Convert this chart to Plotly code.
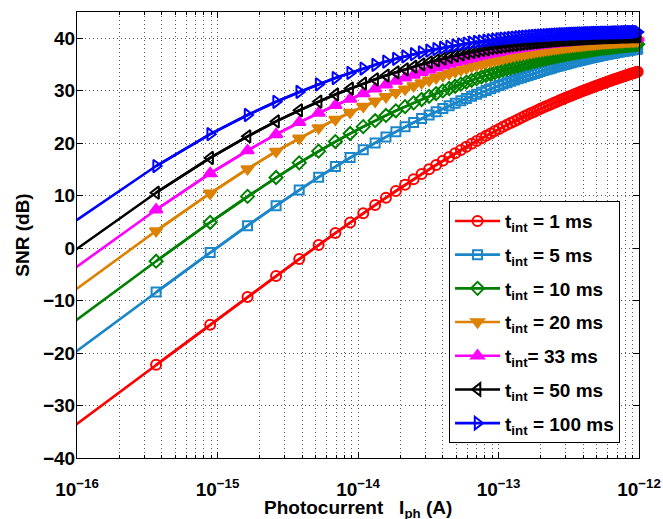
import plotly.graph_objects as go

# Photocurrent sample points (A); the first one lies just left of the visible range
Iph = [
    7.16e-17, 3.656e-16, 8.869e-16, 1.636e-15, 2.612e-15, 3.816e-15, 5.246e-15, 6.904e-15, 8.791e-15, 1.090e-14,
    1.324e-14, 1.581e-14, 1.860e-14, 2.163e-14, 2.488e-14, 2.836e-14, 3.206e-14, 3.599e-14, 4.015e-14, 4.454e-14,
    4.915e-14, 5.399e-14, 5.906e-14, 6.436e-14, 6.988e-14, 7.563e-14, 8.161e-14, 8.782e-14, 9.425e-14, 1.0091e-13,
    1.0779e-13, 1.1491e-13, 1.2225e-13, 1.2982e-13, 1.3762e-13, 1.4564e-13, 1.5389e-13, 1.6238e-13, 1.7108e-13, 1.8001e-13,
    1.8917e-13, 1.9856e-13, 2.0818e-13, 2.1802e-13, 2.2809e-13, 2.3839e-13, 2.4891e-13, 2.5967e-13, 2.7065e-13, 2.8185e-13,
    2.9329e-13, 3.0495e-13, 3.1684e-13, 3.2896e-13, 3.4130e-13, 3.5387e-13, 3.6667e-13, 3.7970e-13, 3.9295e-13, 4.0643e-13,
    4.2014e-13, 4.3407e-13, 4.4824e-13, 4.6263e-13, 4.7725e-13, 4.9209e-13, 5.0716e-13, 5.2247e-13, 5.3799e-13, 5.5374e-13,
    5.6972e-13, 5.8593e-13, 6.0238e-13, 6.1904e-13, 6.3593e-13, 6.5304e-13, 6.7038e-13, 6.8797e-13, 7.0577e-13, 7.2379e-13,
    7.4204e-13, 7.6052e-13, 7.7925e-13, 7.9818e-13, 8.1734e-13, 8.3673e-13, 8.5635e-13, 8.7621e-13, 8.9628e-13, 9.1658e-13,
    9.3710e-13, 9.5785e-13, 9.7885e-13, 1.0000e-12,
]

snr_1ms = [
    -36.40, -22.25, -14.59, -9.31, -5.30, -2.08, 0.60, 2.89, 4.89, 6.65,
    8.21, 9.62, 10.90, 12.07, 13.13, 14.11, 15.02, 15.86, 16.64, 17.37,
    18.06, 18.70, 19.30, 19.87, 20.41, 20.92, 21.40, 21.86, 22.30, 22.71,
    23.11, 23.49, 23.85, 24.20, 24.53, 24.85, 25.16, 25.45, 25.74, 26.01,
    26.28, 26.54, 26.78, 27.02, 27.25, 27.48, 27.70, 27.91, 28.11, 28.31,
    28.51, 28.70, 28.88, 29.06, 29.23, 29.40, 29.56, 29.73, 29.88, 30.04,
    30.18, 30.33, 30.47, 30.61, 30.75, 30.88, 31.01, 31.14, 31.26, 31.38,
    31.50, 31.62, 31.74, 31.85, 31.96, 32.07, 32.17, 32.28, 32.38, 32.48,
    32.57, 32.67, 32.76, 32.86, 32.95, 33.04, 33.12, 33.21, 33.30, 33.38,
    33.46, 33.54, 33.62, 33.70,
]
snr_5ms = [
    -22.45, -8.38, -0.83, 4.28, 8.09, 11.08, 13.52, 15.54, 17.27, 18.75,
    20.05, 21.19, 22.20, 23.12, 23.94, 24.69, 25.38, 26.00, 26.59, 27.12,
    27.63, 28.09, 28.53, 28.95, 29.33, 29.70, 30.05, 30.37, 30.69, 30.98,
    31.26, 31.53, 31.79, 32.03, 32.27, 32.49, 32.71, 32.91, 33.11, 33.30,
    33.48, 33.66, 33.83, 33.99, 34.15, 34.30, 34.45, 34.59, 34.72, 34.85,
    34.98, 35.10, 35.22, 35.34, 35.45, 35.56, 35.66, 35.76, 35.86, 35.96,
    36.05, 36.14, 36.22, 36.31, 36.39, 36.47, 36.54, 36.62, 36.69, 36.76,
    36.83, 36.90, 36.96, 37.03, 37.09, 37.15, 37.20, 37.26, 37.32, 37.37,
    37.42, 37.47, 37.52, 37.57, 37.62, 37.66, 37.71, 37.75, 37.79, 37.84,
    37.88, 37.92, 37.95, 37.99,
]
snr_10ms = [
    -16.48, -2.49, 4.92, 9.86, 13.46, 16.25, 18.48, 20.31, 21.84, 23.15,
    24.29, 25.29, 26.17, 26.96, 27.68, 28.33, 28.92, 29.46, 29.96, 30.42,
    30.85, 31.26, 31.63, 31.98, 32.31, 32.62, 32.91, 33.19, 33.45, 33.70,
    33.93, 34.15, 34.36, 34.56, 34.75, 34.93, 35.10, 35.27, 35.43, 35.58,
    35.72, 35.86, 35.99, 36.11, 36.23, 36.35, 36.46, 36.56, 36.67, 36.76,
    36.86, 36.95, 37.03, 37.12, 37.20, 37.27, 37.35, 37.42, 37.49, 37.56,
    37.62, 37.68, 37.74, 37.80, 37.86, 37.91, 37.96, 38.01, 38.06, 38.11,
    38.15, 38.20, 38.24, 38.28, 38.32, 38.36, 38.40, 38.43, 38.47, 38.50,
    38.53, 38.57, 38.60, 38.63, 38.66, 38.69, 38.71, 38.74, 38.77, 38.79,
    38.82, 38.84, 38.87, 38.89,
]
snr_20ms = [
    -10.56, 3.28, 10.45, 15.10, 18.42, 20.93, 22.91, 24.51, 25.86, 27.00,
    27.99, 28.85, 29.62, 30.30, 30.92, 31.48, 31.98, 32.45, 32.87, 33.27,
    33.63, 33.97, 34.28, 34.57, 34.84, 35.09, 35.33, 35.55, 35.76, 35.95,
    36.13, 36.31, 36.47, 36.62, 36.77, 36.90, 37.03, 37.16, 37.27, 37.38,
    37.49, 37.58, 37.68, 37.77, 37.85, 37.93, 38.01, 38.08, 38.15, 38.22,
    38.28, 38.35, 38.40, 38.46, 38.51, 38.56, 38.61, 38.66, 38.70, 38.75,
    38.79, 38.83, 38.87, 38.90, 38.94, 38.97, 39.01, 39.04, 39.07, 39.10,
    39.12, 39.15, 39.18, 39.20, 39.23, 39.25, 39.27, 39.30, 39.32, 39.34,
    39.36, 39.38, 39.39, 39.41, 39.43, 39.45, 39.46, 39.48, 39.49, 39.51,
    39.52, 39.54, 39.55, 39.56,
]
snr_33ms = [
    -6.32, 7.32, 14.23, 18.60, 21.67, 23.97, 25.76, 27.22, 28.44, 29.47,
    30.37, 31.15, 31.84, 32.45, 33.01, 33.50, 33.95, 34.36, 34.74, 35.08,
    35.40, 35.68, 35.95, 36.20, 36.43, 36.64, 36.84, 37.02, 37.19, 37.35,
    37.50, 37.64, 37.77, 37.89, 38.01, 38.11, 38.21, 38.31, 38.40, 38.48,
    38.56, 38.64, 38.71, 38.78, 38.84, 38.90, 38.96, 39.02, 39.07, 39.12,
    39.16, 39.21, 39.25, 39.29, 39.33, 39.37, 39.40, 39.44, 39.47, 39.50,
    39.53, 39.56, 39.58, 39.61, 39.64, 39.66, 39.68, 39.70, 39.73, 39.75,
    39.77, 39.79, 39.80, 39.82, 39.84, 39.85, 39.87, 39.88, 39.90, 39.91,
    39.93, 39.94, 39.95, 39.97, 39.98, 39.99, 40.00, 40.01, 40.02, 40.03,
    40.04, 40.05, 40.06, 40.07,
]
snr_50ms = [
    -2.87, 10.56, 17.19, 21.30, 24.15, 26.27, 27.93, 29.28, 30.40, 31.35,
    32.17, 32.89, 33.51, 34.07, 34.57, 35.02, 35.42, 35.78, 36.11, 36.41,
    36.68, 36.93, 37.15, 37.36, 37.56, 37.73, 37.90, 38.05, 38.19, 38.32,
    38.44, 38.55, 38.66, 38.75, 38.84, 38.93, 39.01, 39.08, 39.15, 39.22,
    39.28, 39.34, 39.39, 39.45, 39.50, 39.54, 39.58, 39.63, 39.67, 39.70,
    39.74, 39.77, 39.80, 39.83, 39.86, 39.89, 39.92, 39.94, 39.96, 39.99,
    40.01, 40.03, 40.05, 40.07, 40.09, 40.10, 40.12, 40.14, 40.15, 40.17,
    40.18, 40.20, 40.21, 40.22, 40.23, 40.25, 40.26, 40.27, 40.28, 40.29,
    40.30, 40.31, 40.32, 40.33, 40.33, 40.34, 40.35, 40.36, 40.37, 40.37,
    40.38, 40.39, 40.39, 40.40,
]
snr_100ms = [
    2.74, 15.64, 21.71, 25.37, 27.89, 29.76, 31.22, 32.41, 33.39, 34.22,
    34.93, 35.55, 36.08, 36.55, 36.96, 37.32, 37.64, 37.93, 38.19, 38.42,
    38.63, 38.82, 38.99, 39.15, 39.29, 39.42, 39.53, 39.64, 39.74, 39.83,
    39.92, 39.99, 40.07, 40.13, 40.19, 40.25, 40.30, 40.35, 40.40, 40.44,
    40.48, 40.52, 40.56, 40.59, 40.62, 40.65, 40.68, 40.71, 40.73, 40.76,
    40.78, 40.80, 40.82, 40.84, 40.86, 40.87, 40.89, 40.91, 40.92, 40.93,
    40.95, 40.96, 40.97, 40.99, 41.00, 41.01, 41.02, 41.03, 41.04, 41.05,
    41.05, 41.06, 41.07, 41.08, 41.09, 41.09, 41.10, 41.11, 41.11, 41.12,
    41.13, 41.13, 41.14, 41.14, 41.15, 41.15, 41.16, 41.16, 41.17, 41.17,
    41.17, 41.18, 41.18, 41.19,
]

legend_names = [
    "t<sub>int</sub> = 1 ms",
    "t<sub>int</sub> = 5 ms",
    "t<sub>int</sub> = 10 ms",
    "t<sub>int</sub> = 20 ms",
    "t<sub>int</sub>= 33 ms",
    "t<sub>int</sub> = 50 ms",
    "t<sub>int</sub> = 100 ms",
]
x_tick_vals = [1e-16, 1e-15, 1e-14, 1e-13, 1e-12]
x_tick_text = ["10<sup>\u221216</sup>", "10<sup>\u221215</sup>", "10<sup>\u221214</sup>",
               "10<sup>\u221213</sup>", "10<sup>\u221212</sup>"]
y_tick_vals = [-40, -30, -20, -10, 0, 10, 20, 30, 40]
y_tick_text = ["\u221240", "\u221230", "\u221220", "\u221210", "0", "10", "20", "30", "40"]
x_title = "<b>Photocurrent   I<sub>ph</sub> (A)</b>"
y_title = "<b>SNR (dB)</b>"

series_values = [snr_1ms, snr_5ms, snr_10ms, snr_20ms, snr_33ms, snr_50ms, snr_100ms]
colors = ["#ff0000", "#1b86c9", "#008000", "#dc8200", "#ff00ff", "#000000", "#0000ff"]
symbols = ["circle-open", "square-open", "diamond-open", "triangle-down",
           "triangle-up", "triangle-left-open", "triangle-right-open"]
sizes = [10, 9, 10, 11, 11, 11, 11]

FONT = "Liberation Sans, Arial, Helvetica, sans-serif"
FS = 19

fig = go.Figure()
for k, (vals, name, col, sym, sz) in enumerate(zip(series_values, legend_names, colors, symbols, sizes)):
    grp = "g%d" % k
    # full line (first point is off the axis to the left; line clipped by plot area)
    fig.add_trace(go.Scatter(
        x=Iph, y=vals, mode="lines", legendgroup=grp, showlegend=False,
        line=dict(color=col, width=2.6), hoverinfo="skip",
    ))
    # markers at the visible points
    fig.add_trace(go.Scatter(
        x=Iph[1:], y=vals[1:], mode="lines+markers", name=name, legendgroup=grp,
        line=dict(color=col, width=2.6),
        marker=dict(symbol=sym, size=sz, color=col, line=dict(color=col, width=2)),
        cliponaxis=False,
    ))

grid_col = "#5a5a5a"
grid_dash = "1px,3px"
axis_common = dict(
    showline=True, linecolor="black", linewidth=1, mirror="allticks",
    ticks="inside", tickcolor="black", ticklen=6,
    showgrid=True, gridcolor=grid_col, griddash=grid_dash, gridwidth=1,
    zeroline=False, automargin=False,
    tickfont=dict(family=FONT, size=FS, color="black", weight="bold"),
)

fig.update_layout(
    width=663, height=519,
    margin=dict(l=77, r=24, t=12, b=61),
    paper_bgcolor="white", plot_bgcolor="white",
    font=dict(family=FONT, color="black", weight="bold"),
    xaxis=dict(
        type="log", range=[-16, -12],
        tickvals=x_tick_vals, ticktext=x_tick_text,
        ticklabelstandoff=14,
        minor=dict(ticks="inside", ticklen=3, tickcolor="black", showgrid=True,
                   gridcolor=grid_col, griddash=grid_dash, gridwidth=1, dtick="D1"),
        **axis_common,
    ),
    yaxis=dict(
        range=[-40, 45], tickvals=y_tick_vals, ticktext=y_tick_text,
        ticklabelstandoff=-3,
        title=dict(text=y_title, font=dict(family=FONT, size=FS, color="black"), standoff=8),
        **axis_common,
    ),
    legend=dict(
        x=0.662, y=0.576, xanchor="left", yanchor="top",
        bgcolor="white", bordercolor="black", borderwidth=1,
        font=dict(family=FONT, size=FS, color="black", weight="bold"),
        itemwidth=45, tracegroupgap=6,
    ),
    annotations=[dict(
        text=x_title, xref="paper", yref="paper", x=0.5, y=-0.083,
        xanchor="center", yanchor="top", showarrow=False,
        font=dict(family=FONT, size=FS, color="black"),
    )],
    showlegend=True,
)

fig.write_html(
    "out.html",
    config={"displayModeBar": False},
    post_script="document.body.style.margin='0px';document.body.style.padding='0px';",
)
